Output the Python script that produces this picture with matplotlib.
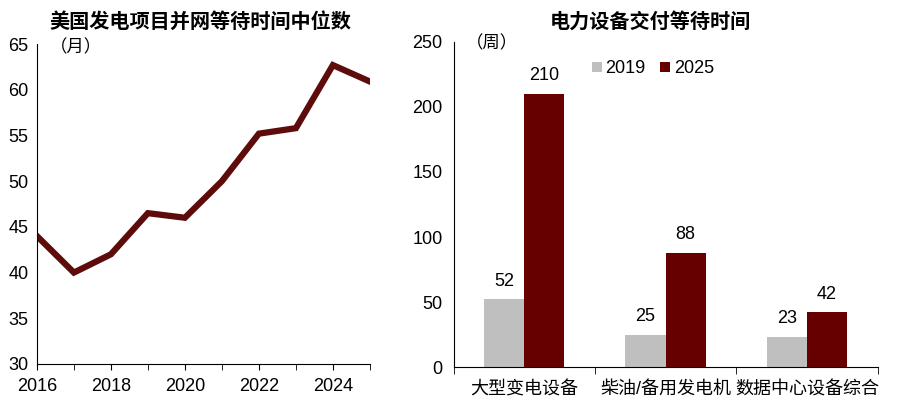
import matplotlib.pyplot as plt
import numpy as np

plt.rcParams['font.family'] = ['Liberation Sans', 'Noto Sans CJK SC']

# left chart: median interconnection wait time (months)
years = [2016, 2017, 2018, 2019, 2020, 2021, 2022, 2023, 2024, 2025]
wait_months = [44, 40, 42, 46.5, 46, 50, 55.2, 55.8, 62.7, 60.9]

# right chart: equipment delivery wait (weeks)
categories = ['大型变电设备', '柴油/备用发电机', '数据中心设备综合']
weeks_2019 = [52, 25, 23]
weeks_2025 = [210, 88, 42]

dark_red = '#660000'
gray = '#BFBFBF'

fig = plt.figure(figsize=(9, 4.07), dpi=100)

# ---- left: line chart
ax1 = fig.add_axes([0.041, 0.1057, 0.370, 0.786])
ax1.plot(years, wait_months, color='#5E0B0B', lw=4.5, solid_joinstyle='miter')
ax1.set_xlim(2016, 2025)
ax1.set_ylim(30, 65)
ax1.set_yticks(range(30, 66, 5))
ax1.set_xticks(years, minor=True)
ax1.set_xticks([2016, 2018, 2020, 2022, 2024])
ax1.tick_params(axis='y', length=0, labelsize=13, pad=6)
ax1.tick_params(axis='x', which='both', direction='out', length=4, labelsize=13, pad=6)
for s in ['top', 'right']:
    ax1.spines[s].set_visible(False)
ax1.text(0.04, 0.99, '（月）', transform=ax1.transAxes, fontsize=12.5, va='center', ha='left')
fig.text(200 / 900, 1 - 22 / 407, '美国发电项目并网等待时间中位数', ha='center', va='center',
         fontsize=14.5, fontweight='bold')

# ---- right: grouped bar chart
ax2 = fig.add_axes([0.504, 0.098, 0.471, 0.799])
x = np.arange(len(categories))
w = 0.284
b1 = ax2.bar(x - w / 2, weeks_2019, w, color=gray, label='2019')
b2 = ax2.bar(x + w / 2, weeks_2025, w, color=dark_red, label='2025')
ax2.bar_label(b1, padding=7, fontsize=13)
ax2.bar_label(b2, padding=7, fontsize=13)
ax2.set_xlim(-0.5, 2.5)
ax2.set_ylim(0, 250)
ax2.set_yticks(range(0, 251, 50))
ax2.set_xticks(x)
ax2.set_xticklabels(categories)
ax2.set_xticks([-0.5, 0.5, 1.5, 2.5], minor=True)
ax2.tick_params(axis='x', which='major', length=0, labelsize=13, pad=10)
ax2.tick_params(axis='x', which='minor', direction='out', length=5)
ax2.tick_params(axis='y', length=0, labelsize=13, pad=8)
for s in ['top', 'right']:
    ax2.spines[s].set_visible(False)
ax2.text(0.03, 0.997, '（周）', transform=ax2.transAxes, fontsize=12.5, va='center', ha='left')
ax2.legend(loc='center', bbox_to_anchor=(0.47, 0.917), ncol=2, frameon=False, fontsize=13,
           handlelength=0.55, handleheight=0.55, handletextpad=0.2, columnspacing=0.8)
fig.text(650 / 900, 1 - 22 / 407, '电力设备交付等待时间', ha='center', va='center',
         fontsize=14.5, fontweight='bold')

fig.savefig('out.png', dpi=100)
